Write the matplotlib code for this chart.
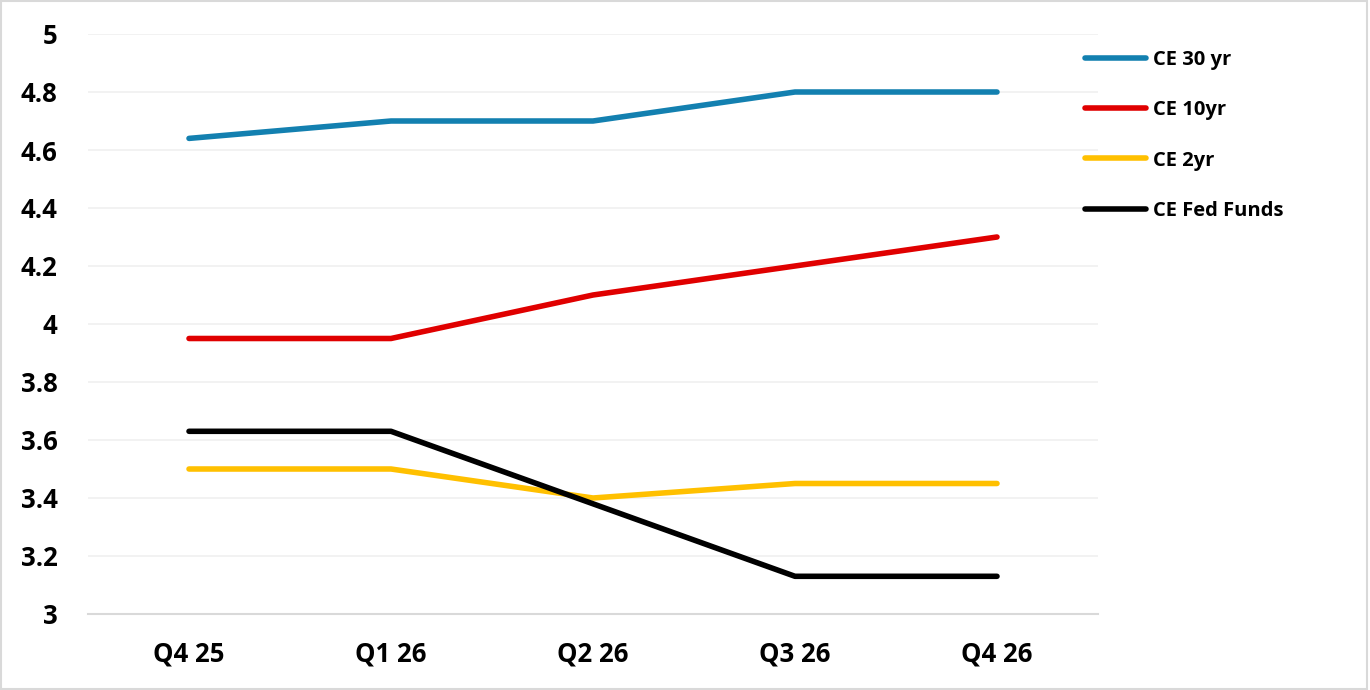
import matplotlib
matplotlib.use("Agg")
import matplotlib.pyplot as plt
from matplotlib.patches import Rectangle

plt.rcParams['font.family'] = ['Open Sans', 'Noto Sans', 'DejaVu Sans']

quarters = ["Q4 25", "Q1 26", "Q2 26", "Q3 26", "Q4 26"]
ce_30yr = [4.64, 4.70, 4.70, 4.80, 4.80]
ce_10yr = [3.95, 3.95, 4.10, 4.20, 4.30]
ce_2yr = [3.50, 3.50, 3.40, 3.45, 3.45]
ce_fed_funds = [3.63, 3.63, 3.38, 3.13, 3.13]

series = [
    ("CE 30 yr", ce_30yr, "#1380b0"),
    ("CE 10yr", ce_10yr, "#e00000"),
    ("CE 2yr", ce_2yr, "#ffc000"),
    ("CE Fed Funds", ce_fed_funds, "#000000"),
]

fig = plt.figure(figsize=(13.7, 6.9), dpi=100)
ax = fig.add_axes([88 / 1370, 1 - 614 / 690, (1098 - 88) / 1370, (614 - 34) / 690])

x = range(len(quarters))
for label, vals, col in series:
    ax.plot(x, vals, color=col, lw=4, label=label, solid_capstyle='round')

ax.set_xlim(-0.5, len(quarters) - 0.5)
ax.set_ylim(3, 5)
ax.set_yticks([3, 3.2, 3.4, 3.6, 3.8, 4, 4.2, 4.4, 4.6, 4.8, 5])
ax.set_yticklabels(["3", "3.2", "3.4", "3.6", "3.8", "4", "4.2", "4.4", "4.6", "4.8", "5"])
ax.set_xticks(list(x))
ax.set_xticklabels(quarters)
for lab in ax.get_xticklabels() + ax.get_yticklabels():
    lab.set_fontweight('bold')
    lab.set_fontsize(18.5)
ax.tick_params(axis='both', length=0)
ax.tick_params(axis='y', pad=22)
ax.tick_params(axis='x', pad=19)

ax.grid(axis='y', color='#f0f0f0', lw=1.2)
ax.set_axisbelow(True)
for s in ['left', 'right', 'top']:
    ax.spines[s].set_visible(False)
ax.spines['bottom'].set_color('#d9d9d9')
ax.spines['bottom'].set_linewidth(1.5)

leg = fig.legend(loc='upper left', bbox_to_anchor=(1067 / 1370, 1 - 32 / 690),
                 frameon=False, handlelength=3.0, handletextpad=0.35,
                 labelspacing=1.5, prop={'weight': 'bold', 'size': 14.5})

fig.patches.append(Rectangle((0.001, 0.001), 0.997, 0.997, transform=fig.transFigure,
                             fill=False, edgecolor='#d9d9d9', lw=1.5))

fig.savefig("out.png", dpi=100)
